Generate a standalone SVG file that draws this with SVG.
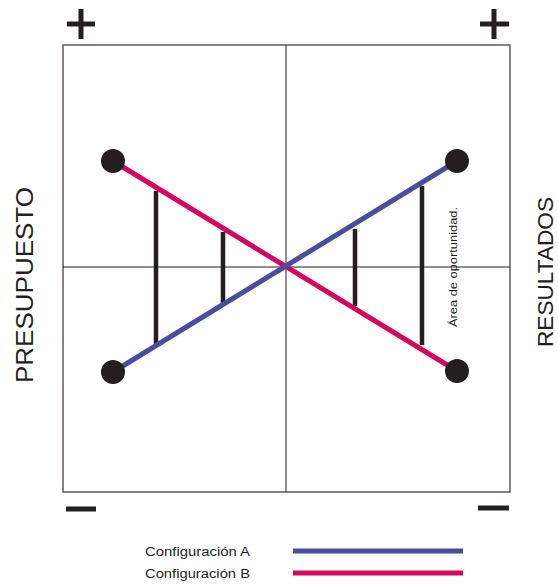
<svg xmlns="http://www.w3.org/2000/svg" width="558" height="584" viewBox="0 0 558 584">
<style>
.txt{font-family:"Liberation Sans","Noto Sans",sans-serif;fill:#231f20}
.sign{stroke:#231f20;stroke-width:5;fill:none}
.bar{stroke:#231f20;stroke-width:4.5;fill:none}
.axis{stroke:#231f20;stroke-width:1;fill:none}
.a{stroke:#4a4c9e;stroke-width:5;fill:none}
.b{stroke:#d6085e;stroke-width:5;fill:none}
.dot{fill:#231f20}
</style>
<rect width="558" height="584" fill="#ffffff"/>
<g id="frame">
<rect x="63" y="45" width="447" height="447" fill="none" stroke="#6b6465" stroke-width="1.6"/>
</g>
<g id="signs">
<path class="sign" d="M67 24H95M81 9V39"/>
<path class="sign" d="M480 24H509M494 9V39"/>
<path class="sign" d="M66 509H96"/>
<path class="sign" d="M478 508H509"/>
</g>
<g id="connectors">
<path class="axis" d="M286 45V492M63 267H510"/>
<path class="bar" d="M156 191V345M223 232V303M355 229V306M422 186V345"/>
<path class="b" d="M113 161L457 371"/>
<path class="a" d="M113 372L457 161"/>
</g>
<g id="dots">
<circle class="dot" cx="113" cy="161" r="12"/>
<circle class="dot" cx="113" cy="372" r="12"/>
<circle class="dot" cx="457" cy="161" r="12"/>
<circle class="dot" cx="457" cy="371" r="12"/>
</g>
<g id="labels">
<text class="txt" transform="translate(33 285) rotate(-90)" text-anchor="middle" font-size="23" textLength="196" lengthAdjust="spacingAndGlyphs">PRESUPUESTO</text>
<text class="txt" transform="translate(553 272) rotate(-90)" text-anchor="middle" font-size="22" textLength="150" lengthAdjust="spacingAndGlyphs">RESULTADOS</text>
<text class="txt" transform="translate(457 267) rotate(-90)" text-anchor="middle" font-size="11" textLength="120" lengthAdjust="spacingAndGlyphs">Área de oportunidad.</text>
</g>
<g id="legend">
<text class="txt" x="145" y="556" font-size="12.5" textLength="105" lengthAdjust="spacingAndGlyphs">Configuración A</text>
<text class="txt" x="145" y="578" font-size="12.5" textLength="105" lengthAdjust="spacingAndGlyphs">Configuración B</text>
<path class="a" d="M293 551H463" stroke-width="4"/>
<path class="b" d="M293 573H463" stroke-width="4"/>
</g>
</svg>
